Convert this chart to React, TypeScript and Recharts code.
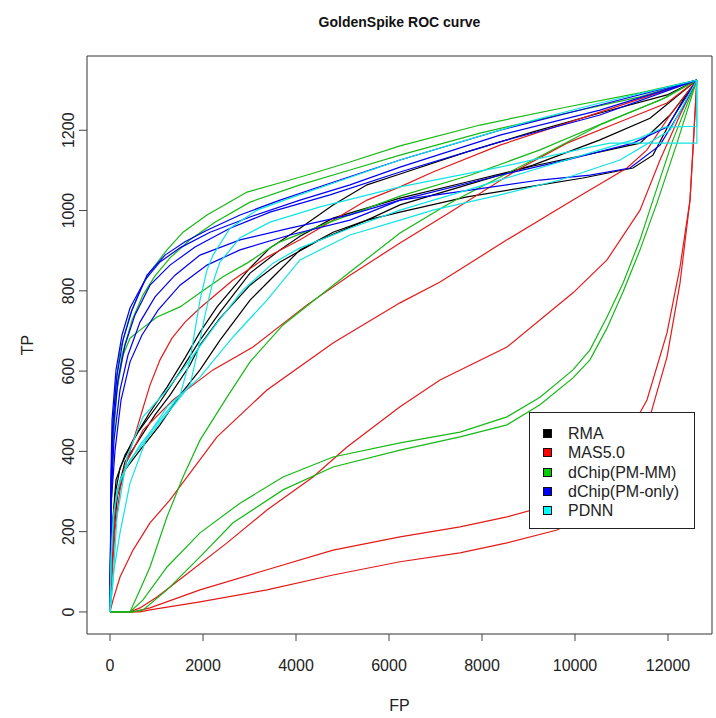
import React from 'react';
import { LineChart, Line, XAxis, YAxis, ReferenceArea, Legend } from 'recharts';

// axis setup
const xDomain = [-495, 12946];
const yDomain = [-55, 1385];
const xTicks = [0, 2000, 4000, 6000, 8000, 10000, 12000];
const yTicks = [0, 200, 400, 600, 800, 1000, 1200];

const methods = ['RMA', 'MAS5.0', 'dChip(PM-MM)', 'dChip(PM-only)', 'PDNN'];
const legendColors = ['#000000', '#ff0000', '#00cd00', '#0000ff', '#00ffff'];
const lineColors = ['#000000', '#e31a1a', '#16b816', '#0000f0', '#10e4e4'];

// [FP, TP]
const rma1 = [[0,0],[43,167],[108,291],[215,359],[495,428],[860,498],[1226,560],[1613,633],[1935,697],[2301,760],[3011,857],[3441,907],[4086,956],[4796,1014],[5527,1064],[6237,1091],[7677,1146],[9097,1196],[10537,1243],[11978,1288],[12620,1325]];
const rma2 = [[0,0],[65,179],[172,304],[323,374],[645,433],[968,491],[1290,540],[1720,615],[1935,665],[2366,732],[3011,814],[3656,872],[4516,927],[5527,976],[6237,1014],[7677,1064],[9097,1113],[10537,1176],[11613,1230],[12620,1325]];
const rma3 = [[0,0],[43,130],[129,279],[323,354],[645,403],[1075,466],[1505,540],[1935,603],[2366,677],[3011,777],[3441,827],[4086,902],[4796,946],[5527,976],[6237,996],[7677,1034],[9097,1061],[10172,1081],[11247,1106],[11677,1138],[11978,1205],[12322,1275],[12620,1325]];
const rma4 = [[0,0],[43,205],[129,329],[323,391],[602,448],[1075,523],[1505,598],[1935,677],[2366,747],[3011,844],[3656,902],[4086,936],[4796,981],[6237,1031],[7677,1071],[9097,1111],[10537,1146],[11398,1168],[12043,1238],[12620,1325]];

const mas1 = [[0,0],[43,92],[108,204],[215,304],[366,379],[538,441],[710,508],[860,565],[1075,628],[1333,682],[1613,722],[1935,757],[2645,827],[3376,884],[4086,927],[4796,976],[5527,1026],[6237,1059],[6946,1096],[8387,1163],[10537,1245],[12620,1325]];
const mas2 = [[0,0],[43,130],[129,279],[323,366],[495,403],[710,453],[1355,528],[2215,603],[3075,660],[4237,765],[5161,839],[6237,919],[7312,996],[8753,1101],[9828,1168],[10903,1218],[11978,1268],[12620,1325]];
const mas3 = [[0,0],[65,30],[215,87],[495,154],[860,222],[1290,279],[2301,436],[3376,553],[4796,670],[6237,770],[7097,822],[8537,927],[9957,1026],[11118,1106],[11548,1151],[12043,1238],[12620,1325]];
const mas4 = [[0,0],[430,0],[645,10],[1011,37],[1570,87],[2516,172],[3376,254],[4366,336],[5097,411],[6237,511],[7097,578],[8537,660],[9957,795],[10688,877],[11398,1001],[11828,1126],[12258,1238],[12620,1325]];
const mas5 = [[0,0],[495,0],[860,10],[1935,55],[3376,105],[4796,154],[6237,187],[7527,212],[8537,237],[9613,271],[10322,321],[11032,421],[11548,528],[11978,695],[12258,859],[12473,1026],[12538,1151],[12620,1325]];
const mas6 = [[0,0],[645,0],[860,5],[1935,25],[3376,55],[4796,92],[6237,125],[7527,147],[8537,172],[9613,204],[10322,247],[11032,336],[11548,461],[11978,635],[12258,819],[12473,1026],[12620,1325]];

const mm1 = [[0,0],[22,279],[43,428],[108,553],[215,652],[430,740],[645,802],[860,847],[1226,902],[1570,946],[2086,989],[2946,1046],[3871,1076],[4366,1093],[5161,1121],[6237,1161],[7957,1213],[9828,1258],[11398,1293],[12620,1325]];
const mm2 = [[0,0],[22,254],[65,416],[129,540],[258,640],[473,727],[710,790],[968,837],[1290,882],[1720,927],[2258,971],[3011,1021],[4086,1064],[5161,1101],[6237,1138],[7957,1193],[9828,1243],[11398,1283],[12620,1325]];
const mm3 = [[0,0],[22,229],[65,428],[151,553],[280,640],[430,682],[645,702],[1011,735],[1505,760],[1935,795],[2430,835],[2946,869],[3376,902],[3656,922],[4731,971],[6237,1036],[7742,1088],[9247,1151],[10752,1225],[11828,1275],[12620,1325]];
const mm4 = [[0,0],[430,0],[645,55],[860,112],[1226,237],[1570,336],[1935,428],[2516,535],[3011,623],[3720,715],[4452,782],[5161,847],[6237,944],[7312,1019],[9097,1126],[10537,1213],[11978,1283],[12620,1325]];
const mm5 = [[0,0],[430,0],[710,30],[1226,112],[1935,197],[2796,271],[3720,336],[4796,386],[6237,421],[7527,448],[8537,486],[9247,535],[9957,603],[10322,653],[10688,735],[11032,819],[11398,927],[11677,1026],[12106,1176],[12620,1325]];
const mm6 = [[0,0],[495,0],[710,5],[1226,55],[1935,137],[2645,222],[3720,304],[4796,361],[6237,403],[7527,436],[8537,466],[9247,516],[9957,583],[10322,628],[10688,707],[11032,797],[11398,902],[11763,1019],[12193,1168],[12620,1325]];

const pm1 = [[0,0],[22,329],[65,478],[151,590],[280,677],[473,752],[796,839],[1183,889],[1613,922],[2086,951],[2796,989],[3656,1026],[4731,1068],[6237,1126],[8387,1200],[10537,1263],[12620,1325]];
const pm2 = [[0,0],[22,304],[65,453],[172,578],[323,665],[538,740],[860,814],[1290,864],[1828,909],[2581,956],[3441,996],[4731,1039],[6237,1096],[8387,1171],[10537,1238],[12620,1325]];
const pm3 = [[0,0],[22,354],[43,478],[129,603],[258,690],[430,757],[753,827],[1075,872],[1505,907],[2151,946],[3011,984],[4086,1026],[5161,1064],[6237,1108],[8387,1188],[10537,1250],[12620,1325]];
const pm4 = [[0,0],[22,279],[86,428],[215,553],[387,640],[645,722],[968,785],[1398,839],[1935,889],[2796,927],[3871,956],[5161,989],[6237,1026],[7742,1051],[9247,1076],[10322,1088],[11183,1106],[11828,1163],[12322,1258],[12620,1325]];
const pm5 = [[0,0],[22,266],[108,403],[237,528],[430,623],[688,690],[1033,752],[1505,814],[2086,864],[2796,902],[3871,939],[5161,976],[6237,1026],[8387,1088],[9828,1126],[11247,1168],[11978,1208],[12620,1325]];

const pdnn1 = [[0,0],[22,130],[65,229],[151,304],[323,354],[645,416],[1075,478],[1505,540],[1720,628],[1828,702],[1935,777],[2086,852],[2215,889],[2581,956],[3161,1001],[3871,1031],[4796,1068],[6237,1126],[7677,1176],[9097,1225],[10537,1268],[12620,1325]];
const pdnn2 = [[0,0],[22,130],[86,254],[215,329],[430,379],[860,441],[1290,503],[1720,565],[1892,653],[2043,740],[2194,814],[2366,872],[2796,932],[3441,971],[4516,1009],[6237,1059],[8387,1108],[10322,1158],[10752,1168],[12620,1168],[12620,1325]];
const pdnn3 = [[0,0],[65,80],[151,237],[366,386],[710,486],[1226,553],[1720,628],[2301,720],[2860,802],[3505,869],[4086,907],[5161,956],[6237,1001],[7677,1051],[9097,1101],[10537,1151],[11398,1181],[11935,1208],[12620,1210],[12620,1325]];
const pdnn4 = [[0,0],[86,105],[215,197],[430,321],[796,436],[1226,511],[1935,585],[2645,685],[3376,777],[4086,877],[5161,939],[6237,976],[6946,1001],[8387,1039],[9677,1076],[10968,1126],[12043,1200],[12620,1325]];

const curvesByMethod = [
  [rma1, rma2, rma3, rma4],
  [mas1, mas2, mas3, mas4, mas5, mas6],
  [mm1, mm2, mm3, mm4, mm5, mm6],
  [pm1, pm2, pm3, pm4, pm5],
  [pdnn1, pdnn2, pdnn3, pdnn4],
];

const font = '"Liberation Sans", Arial, Helvetica, sans-serif';
const textColor = '#222';

const toPoints = (c: number[][]) => c.map(([fp, tp]) => ({ fp, tp }));

const YTick = ({ y, payload }: any) => (
  <text x={74} y={y} transform={`rotate(-90 74 ${y})`} textAnchor="middle"
    fill={textColor} fontSize={16} fontFamily={font}>
    {payload.value}
  </text>
);

const YTitle = ({ viewBox }: any) => {
  const cy = viewBox.y + viewBox.height / 2;
  return (
    <text x={33} y={cy} transform={`rotate(-90 33 ${cy})`} textAnchor="middle"
      fill={textColor} fontSize={16} fontFamily={font}>TP</text>
  );
};

const LegendBox = () => (
  <div style={{
    boxSizing: 'border-box', width: 166, height: 117, border: '1px solid #222',
    background: '#fff', paddingTop: 11, fontFamily: font, fontSize: 16, color: textColor,
  }}>
    {methods.map((m, i) => (
      <div key={m} style={{ position: 'relative', height: 19.3, lineHeight: '19.3px' }}>
        <span style={{
          position: 'absolute', left: 13, top: 5, width: 9, height: 9,
          background: legendColors[i], border: '1px solid #111', boxSizing: 'border-box',
        }} />
        <span style={{ position: 'absolute', left: 38, top: 0, whiteSpace: 'nowrap' }}>{m}</span>
      </div>
    ))}
  </div>
);

export default function App() {
  return (
    <div style={{ position: 'absolute', left: 0, top: 0, width: 716, height: 718, background: '#fff' }}>
      <div style={{
        position: 'absolute', left: 87, top: 13, width: 625, textAlign: 'center',
        fontFamily: font, fontWeight: 'bold', fontSize: 14, lineHeight: '18px', color: '#111',
      }}>
        GoldenSpike ROC curve
      </div>
      <LineChart width={716} height={718} margin={{ top: 56, right: 4, bottom: 0, left: 0 }}>
        <XAxis dataKey="fp" type="number" domain={xDomain} ticks={xTicks} allowDataOverflow
          height={84} axisLine={false} tickSize={7} tickMargin={19}
          tickLine={{ stroke: '#444' }}
          tick={{ fill: textColor, fontSize: 16, fontFamily: font }}
          label={{ value: 'FP', position: 'insideBottom', offset: 7, fill: textColor, fontSize: 16, fontFamily: font }} />
        <YAxis dataKey="tp" type="number" domain={yDomain} ticks={yTicks} allowDataOverflow
          width={87} axisLine={false} tickSize={8} tickLine={{ stroke: '#444' }}
          tick={<YTick />} label={<YTitle />} />
        {curvesByMethod.map((group, gi) =>
          group.map((c, ci) => (
            <Line key={`${gi}-${ci}`} data={toPoints(c)} dataKey="tp" type="linear"
              stroke={lineColors[gi]} strokeWidth={1.2} dot={false}
              isAnimationActive={false} legendType="none" />
          ))
        )}
        <ReferenceArea x1={xDomain[0]} x2={xDomain[1]} y1={yDomain[0]} y2={yDomain[1]}
          fill="none" stroke="#333" strokeWidth={1} ifOverflow="visible" />
        <Legend layout="horizontal" verticalAlign="middle" align="center" content={<LegendBox />}
          wrapperStyle={{ left: 529, top: 412, width: 166, height: 117 }} />
      </LineChart>
    </div>
  );
}
